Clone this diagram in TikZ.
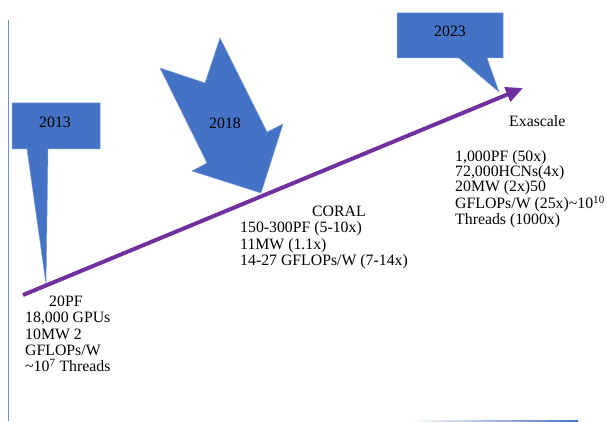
\documentclass[tikz,border=0pt]{standalone}
\usepackage{fontspec}
\setmainfont{Liberation Serif}
\usetikzlibrary{arrows.meta}
\definecolor{offblue}{HTML}{4472C4}
\definecolor{lineblue}{HTML}{6A8FDB}
\definecolor{offpurple}{HTML}{7030A0}
\tikzset{
  calloutshape/.style={fill=offblue, draw=offblue!70!white, line width=0.5pt},
  yeartext/.style={font=\fontsize{15.8}{16}\selectfont, inner sep=0pt, anchor=base},
  infotext/.style={font=\fontsize{15.8}{16.2}\selectfont, inner sep=0pt, align=left, anchor=north west},
  trend/.style={draw=offpurple, line width=4pt, -{Triangle[length=17pt,width=15pt]}},
}
\begin{document}
\begin{tikzpicture}[x=1pt,y=-1pt]
\useasboundingbox (0,0) rectangle (607,422);
% axes
\draw[lineblue, line width=1.5pt] (8.5,20) -- (8.5,421);
\shade[left color=white, right color=offblue] (410,420.3) rectangle (578,422);
% callouts
\path[calloutshape] (12,103) -- (100,103) -- (100,149) -- (48,149) -- (46,284) -- (27,149) -- (12,149) -- cycle;
\path[calloutshape] (397,13) -- (503,13) -- (503,58) -- (487,58) -- (499,92) -- (459,58) -- (397,58) -- cycle;
\path[calloutshape] (220,38) -- (267,132) -- (283,124) -- (261,193) -- (192,171) -- (207,163) -- (160,68) -- (205,83) -- cycle;
% trend arrow
\coordinate (start) at (23,295);
\coordinate (end) at (523,88);
\draw[trend] (start) -- (end);
% year labels
\node[yeartext] (y2013) at (55,128) {2013};
\node[yeartext] (y2018) at (225,129) {2018};
\node[yeartext] (y2023) at (450,37) {2023};
% info blocks
\node[infotext] (t2013) at (25,296) {\hspace*{24pt}20PF\\18,000 GPUs\\10MW 2\\GFLOPs/W\\\textasciitilde10\textsuperscript{7} Threads};
\node[infotext] (t2018) at (240,206) {\hspace*{72pt}CORAL\\150-300PF (5-10x)\\11MW (1.1x)\\14-27 GFLOPs/W (7-14x)};
\node[yeartext, anchor=base west] (exa) at (509,127) {Exascale};
\node[infotext, font=\fontsize{15.8}{15.3}\selectfont] (t2023) at (455,150) {1,000PF (50x)\\72,000HCNs(4x)\\20MW (2x)50\\GFLOPs/W (25x)\textasciitilde10\textsuperscript{10}\\Threads (1000x)};
\end{tikzpicture}
\end{document}
